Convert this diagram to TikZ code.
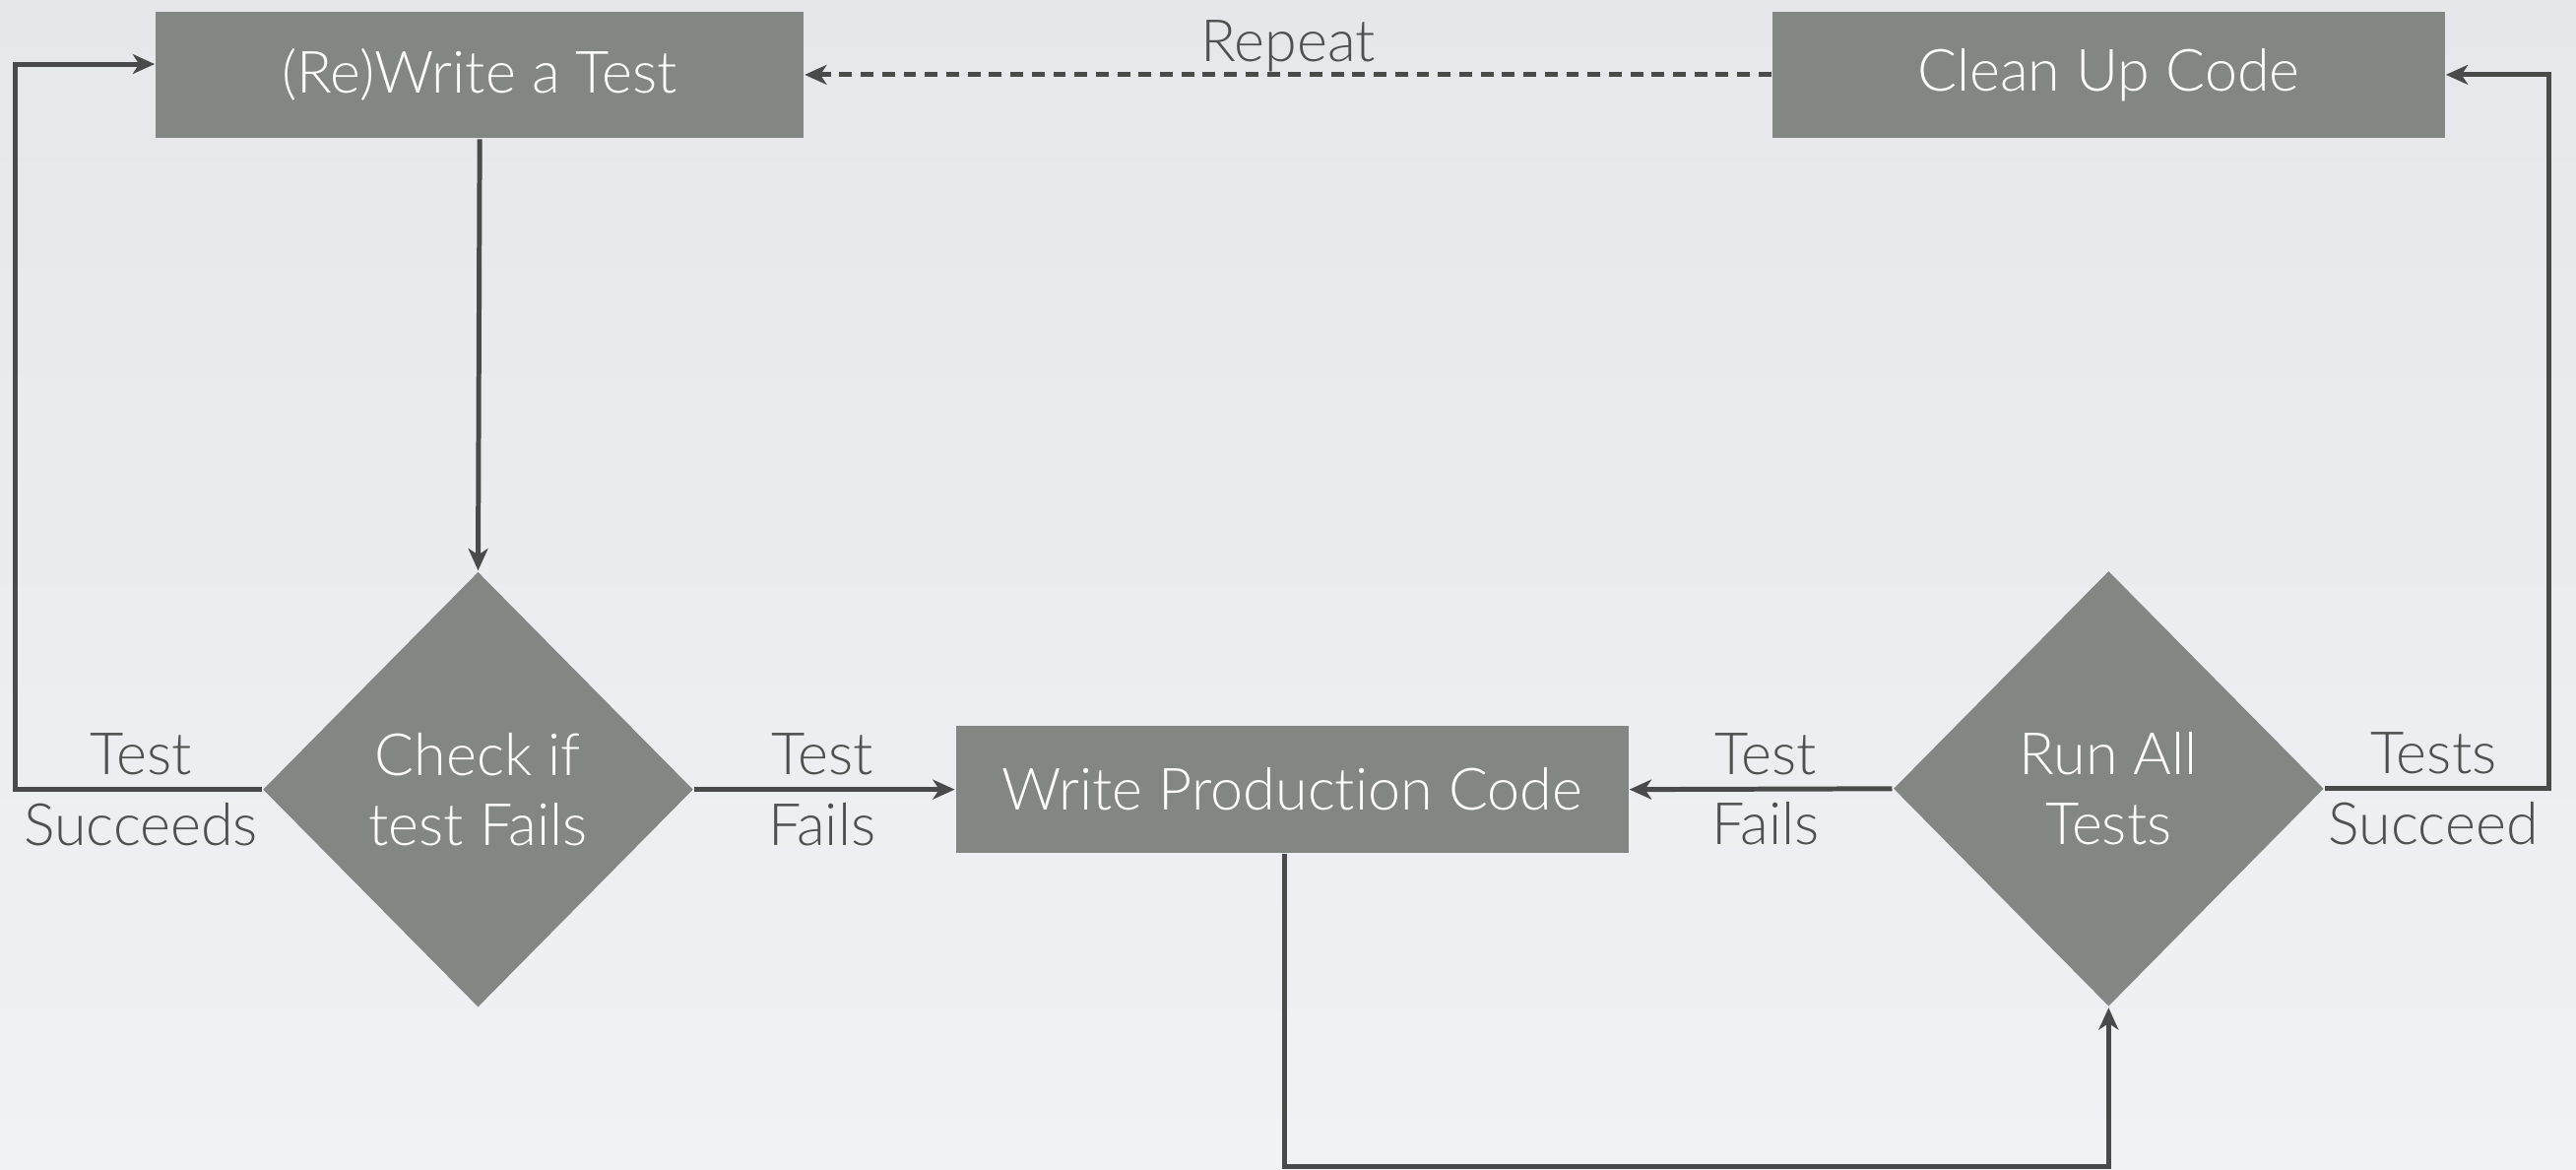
\documentclass[tikz,border=0pt]{standalone}
\usepackage{fontspec}
\setmainfont{Lato}[UprightFont=* Light, Ligatures=NoCommon]
\usetikzlibrary{shapes,arrows.meta,positioning}

\definecolor{boxgray}{RGB}{130,135,132}
\definecolor{linegray}{RGB}{74,74,74}
\definecolor{labelgray}{RGB}{80,80,80}
\definecolor{bgtop}{RGB}{230,231,235}
\definecolor{bgbottom}{RGB}{241,242,244}

\tikzset{
  stepbox/.style={rectangle, fill=boxgray, text=white, minimum height=0.77cm, inner sep=0pt},
  decision/.style={diamond, fill=boxgray, text=white, align=center, minimum width=2.62cm, minimum height=2.65cm, inner sep=0pt},
  flow/.style={draw=linegray, line width=0.85pt, -{Stealth[length=3.8pt,width=3.4pt,inset=1.1pt]}},
  lbl/.style={text=labelgray, align=center, inner sep=0pt}
}

\begin{document}
\begin{tikzpicture}[x=0.01cm, y=-0.01cm, font=\fontsize{10.1}{12.2}\selectfont]
    % Background
    \shade[top color=bgtop, bottom color=bgbottom] (0,0) rectangle (1568,712);
    \useasboundingbox (0,0) rectangle (1568,712);

    % Steps
    \node[stepbox, minimum width=3.94cm] (write) at (292,45.5) {(Re)Write a Test};
    \node[stepbox, minimum width=4.09cm] (clean) at (1283.5,45.5) {Clean Up Code};
    \node[stepbox, minimum width=4.09cm] (prod) at (786.5,480.5) {Write Production Code};

    % Decisions
    \node[decision] (check) at (291,480.5) {Check if\\test Fails};
    \node[decision] (runall) at (1283.5,480) {Run All\\Tests};

    % Connectors
    \draw[flow] (write.south) -- (check.north);
    \draw[flow] (check.west) -- node[lbl, pos=0.49] (succ) {Test\\Succeeds} ++(-150,0) |- ([yshift=0.065cm]write.west);
    \draw[flow] (check.east) -- node[lbl, pos=0.49] (fail) {Test\\Fails} (prod.west);
    \draw[flow] (runall.west) -- node[lbl, pos=0.48] (failall) {Test\\Fails} (prod.east);
    \draw[flow] (runall.east) -- node[lbl, pos=0.485] (succall) {Tests\\Succeed} ++(136,0) |- (clean.east);
    \draw[flow] ([xshift=-0.045cm]prod.south) -- ++(0,190) -| (runall.south);

    % Repeat
    \draw[flow, dash pattern=on 2.2pt off 1.5pt] (clean.west) -- node[lbl, above=0pt] (repeat) {Repeat} (write.east);
\end{tikzpicture}
\end{document}
